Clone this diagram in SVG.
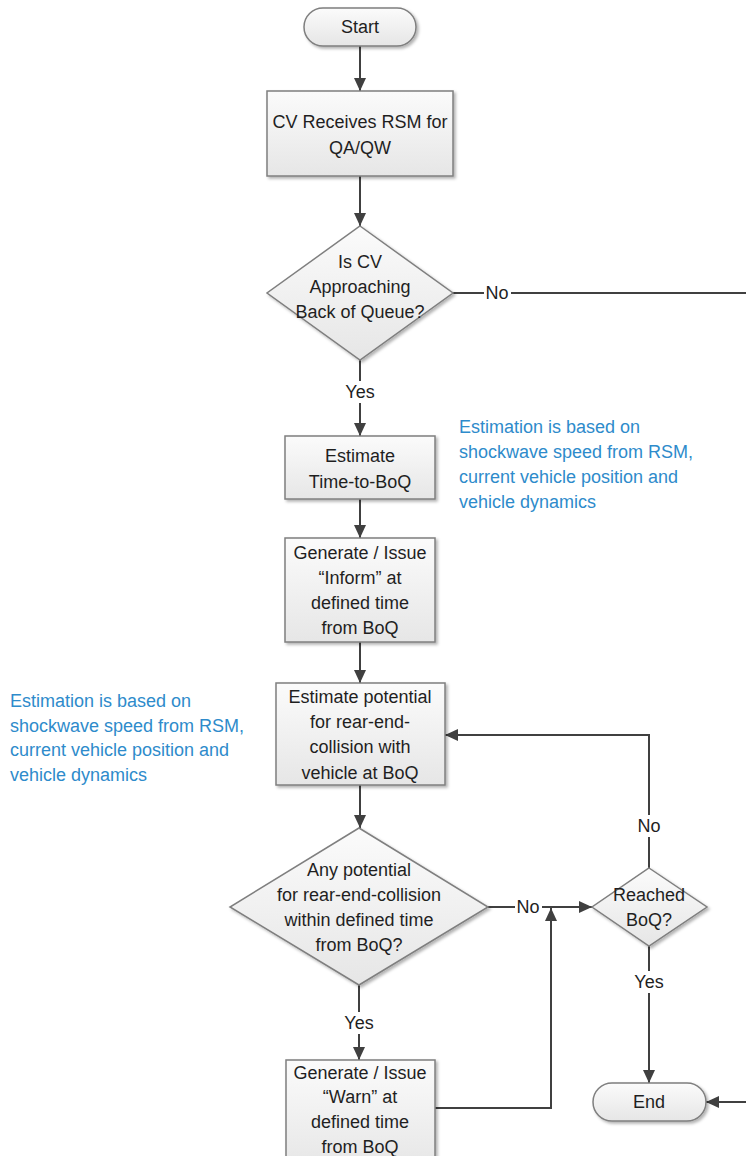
<svg xmlns="http://www.w3.org/2000/svg" width="746" height="1156" viewBox="0 0 746 1156">
  <style>
    .shape { fill: url(#fillGrad); stroke: #7f7f7f; stroke-width: 1.5; filter: url(#shadow); }
    .txt { font-family: "Liberation Sans", Arial, sans-serif; font-size: 18px; fill: #1f1f1f; text-anchor: middle; dominant-baseline: central; }
    .note { font-family: "Liberation Sans", Arial, sans-serif; font-size: 18px; fill: #2e8bcb; dominant-baseline: central; }
    .conn { fill: none; stroke: #404040; stroke-width: 2; }
    .arrow { marker-end: url(#head); }
    .lblbg { fill: #ffffff; }
  </style>
  <defs>
    <linearGradient id="fillGrad" x1="0" y1="0" x2="0" y2="1">
      <stop offset="0" stop-color="#fbfbfb"/>
      <stop offset="1" stop-color="#e6e6e6"/>
    </linearGradient>
    <filter id="shadow" x="-10%" y="-10%" width="130%" height="130%">
      <feDropShadow dx="2" dy="2" stdDeviation="1.5" flood-color="#000000" flood-opacity="0.3"/>
    </filter>
    <marker id="head" markerUnits="userSpaceOnUse" markerWidth="14" markerHeight="12" refX="13" refY="6" orient="auto">
      <path d="M0,0 L13,6 L0,12 Z" fill="#404040"/>
    </marker>
  </defs>

  <rect width="746" height="1156" fill="#ffffff"/>

  <!-- connectors -->
  <g id="connectors">
    <line class="conn arrow" x1="360" y1="46" x2="360" y2="91"/>
    <line class="conn arrow" x1="360" y1="176" x2="360" y2="226"/>
    <line class="conn" x1="453" y1="293" x2="746" y2="293"/>
    <line class="conn arrow" x1="360" y1="360" x2="360" y2="436"/>
    <line class="conn arrow" x1="360" y1="499" x2="360" y2="538"/>
    <line class="conn arrow" x1="360" y1="642" x2="360" y2="683"/>
    <line class="conn arrow" x1="360" y1="785" x2="360" y2="828"/>
    <line class="conn arrow" x1="488" y1="907" x2="592" y2="907"/>
    <line class="conn arrow" x1="359" y1="985" x2="359" y2="1060"/>
    <polyline class="conn arrow" points="435,1108 551,1108 551,908"/>
    <polyline class="conn arrow" points="649,868 649,735 445,735"/>
    <line class="conn arrow" x1="649" y1="946" x2="649" y2="1083"/>
    <line class="conn arrow" x1="746" y1="1102" x2="706" y2="1102"/>

    <!-- connector labels -->
    <rect class="lblbg" x="484" y="283" width="27" height="20"/>
    <text class="txt" x="497" y="293">No</text>
    <rect class="lblbg" x="342" y="381" width="36" height="22"/>
    <text class="txt" x="360" y="392">Yes</text>
    <rect class="lblbg" x="515" y="897" width="27" height="20"/>
    <text class="txt" x="528" y="907">No</text>
    <rect class="lblbg" x="341" y="1012" width="36" height="22"/>
    <text class="txt" x="359" y="1023">Yes</text>
    <rect class="lblbg" x="636" y="815" width="27" height="22"/>
    <text class="txt" x="649" y="826">No</text>
    <rect class="lblbg" x="631" y="971" width="36" height="22"/>
    <text class="txt" x="649" y="982">Yes</text>
  </g>

  <!-- nodes -->
  <g id="start">
    <rect class="shape" x="304" y="8" width="112" height="38" rx="19" ry="19"/>
    <text class="txt" x="360" y="27">Start</text>
  </g>

  <g id="receive-rsm">
    <rect class="shape" x="267" y="91" width="186" height="85"/>
    <text class="txt" x="360" y="122">CV Receives RSM for</text>
    <text class="txt" x="360" y="148">QA/QW</text>
  </g>

  <g id="approaching-boq">
    <polygon class="shape" points="360,226 453,293 360,360 267,293"/>
    <text class="txt" x="360" y="262">Is CV</text>
    <text class="txt" x="360" y="287">Approaching</text>
    <text class="txt" x="360" y="312">Back of Queue?</text>
  </g>

  <g id="estimate-time">
    <rect class="shape" x="285" y="436" width="150" height="63"/>
    <text class="txt" x="360" y="456">Estimate</text>
    <text class="txt" x="360" y="482">Time-to-BoQ</text>
  </g>

  <g id="note-time">
    <text class="note" x="459" y="427">Estimation is based on</text>
    <text class="note" x="459" y="452">shockwave speed from RSM,</text>
    <text class="note" x="459" y="477">current vehicle position and</text>
    <text class="note" x="459" y="502">vehicle dynamics</text>
  </g>

  <g id="issue-inform">
    <rect class="shape" x="285" y="538" width="150" height="104"/>
    <text class="txt" x="360" y="553">Generate / Issue</text>
    <text class="txt" x="360" y="578">“Inform” at</text>
    <text class="txt" x="360" y="603">defined time</text>
    <text class="txt" x="360" y="628">from BoQ</text>
  </g>

  <g id="estimate-potential">
    <rect class="shape" x="276" y="683" width="169" height="102"/>
    <text class="txt" x="360" y="697">Estimate potential</text>
    <text class="txt" x="360" y="722">for rear-end-</text>
    <text class="txt" x="360" y="747">collision with</text>
    <text class="txt" x="360" y="773">vehicle at BoQ</text>
  </g>

  <g id="note-collision">
    <text class="note" x="10" y="701">Estimation is based on</text>
    <text class="note" x="10" y="726">shockwave speed from RSM,</text>
    <text class="note" x="10" y="750">current vehicle position and</text>
    <text class="note" x="10" y="775">vehicle dynamics</text>
  </g>

  <g id="collision-check">
    <polygon class="shape" points="359,828 488,907 359,985 230,907"/>
    <text class="txt" x="359" y="870">Any potential</text>
    <text class="txt" x="359" y="895">for rear-end-collision</text>
    <text class="txt" x="359" y="920">within defined time</text>
    <text class="txt" x="359" y="945">from BoQ?</text>
  </g>

  <g id="reached-boq">
    <polygon class="shape" points="649,868 707,907 649,946 592,907"/>
    <text class="txt" x="649" y="895">Reached</text>
    <text class="txt" x="649" y="920">BoQ?</text>
  </g>

  <g id="issue-warn">
    <rect class="shape" x="286" y="1060" width="149" height="110"/>
    <text class="txt" x="360" y="1073">Generate / Issue</text>
    <text class="txt" x="360" y="1097">“Warn” at</text>
    <text class="txt" x="360" y="1122">defined time</text>
    <text class="txt" x="360" y="1147">from BoQ</text>
  </g>

  <g id="end">
    <rect class="shape" x="593" y="1083" width="113" height="38" rx="19" ry="19"/>
    <text class="txt" x="649" y="1102">End</text>
  </g>
</svg>
